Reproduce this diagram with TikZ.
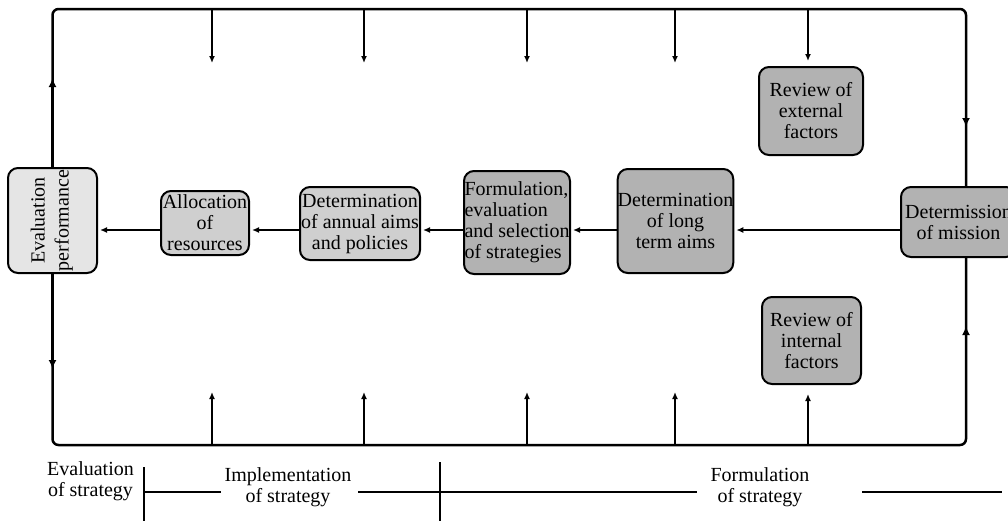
\documentclass[tikz,border=0pt]{standalone}
\usepackage{fontspec}
\setmainfont{Liberation Serif}
\usetikzlibrary{arrows.meta}
\begin{document}
\begin{tikzpicture}[x=0.5pt,y=-0.5pt,
  txt/.style={font=\fontsize{10}{10.5}\selectfont},
  box/.style={txt, draw, line width=1pt, rounded corners=5pt, inner sep=0pt, align=center},
  light/.style={box, fill=gray!20},
  mid/.style={box, fill=gray!38},
  dark/.style={box, fill=gray!60},
  frame/.style={line width=1.25pt},
  arr/.style={line width=0.75pt, -{Latex[length=3.5pt,width=3pt]}},
  farr/.style={line width=1.25pt, -{Latex[length=4.5pt,width=4pt]}},
  leg/.style={line width=0.75pt},
  legtxt/.style={font=\fontsize{10}{10.5}\selectfont, align=center, inner sep=0pt}
]
\useasboundingbox (0,0) rectangle (1008,521);
\clip (0,0) rectangle (1008,521);

% nodes
\node[light, minimum width=44.5pt, minimum height=52.5pt] (eval) at (52.5,220.5)
  {\rotatebox{90}{\begin{tabular}{@{}c@{}}Evaluation\\[1.5pt]performance\end{tabular}}};
\node[mid, minimum width=44pt, minimum height=32pt] (alloc) at (205,223)
  {Allocation\\of\\resources};
\node[mid, minimum width=60pt, minimum height=36.5pt] (annual) at (360,223.5)
  {Determination\\of annual aims\\and policies};
\node[dark, minimum width=53pt, minimum height=51.5pt, align=left] (form) at (517,222.5)
  {Formulation,\\evaluation\\and selection\\of strategies};
\node[dark, minimum width=56.5pt, minimum height=52pt] (long) at (675.5,221)
  {Determination\\of long\\term aims};
\node[dark, minimum width=57.5pt, minimum height=35pt] (mission) at (958.5,222)
  {Determission\\of mission};
\node[dark, minimum width=52pt, minimum height=44pt] (ext) at (811,111)
  {Review of\\external\\factors};
\node[dark, minimum width=49.5pt, minimum height=43.5pt] (int) at (811.5,340.5)
  {Review of\\internal\\factors};

% frame
\coordinate (tl) at (52.5,9);
\coordinate (tr) at (966,9);
\coordinate (br) at (966,445);
\coordinate (bl) at (52.5,445);
\draw[frame, rounded corners=3pt] (eval.north) -- (tl) -- (tr) -- (mission.north -| tr);
\draw[frame, rounded corners=3pt] (mission.south -| tr) -- (br) -- (bl) -- (eval.south);

% arrowheads on the frame
\coordinate (lu) at (52.5,78);
\coordinate (ld) at (52.5,369);
\coordinate (rd) at (966,127);
\coordinate (ru) at (966,326);
\coordinate (rs) at (966,30);
\coordinate (rb) at (966,420);
\draw[farr] (eval.north) -- (lu);
\draw[farr] (eval.south) -- (ld);
\draw[farr] (rs) -- (rd);
\draw[farr] (rb) -- (ru);

% row arrows
\coordinate (row) at (0,230);
\draw[arr, shorten >=1pt] (mission.west |- row) -- (long.east |- row);
\draw[arr, shorten >=1pt] (long.west |- row) -- (form.east |- row);
\draw[arr, shorten >=1pt] (form.west |- row) -- (annual.east |- row);
\draw[arr, shorten >=1pt] (annual.west |- row) -- (alloc.east |- row);
\draw[arr, shorten >=1pt] (alloc.west |- row) -- (eval.east |- row);

% top and bottom arrows
\foreach \x [count=\i] in {212,364,527,675} {
  \coordinate (ts\i) at (\x,9);
  \coordinate (te\i) at (\x,63);
  \draw[arr] (ts\i) -- (te\i);
  \coordinate (bs\i) at (\x,445);
  \coordinate (be\i) at (\x,392);
  \draw[arr] (bs\i) -- (be\i);
}
\coordinate (ts5) at (808,9);
\draw[arr, shorten >=2.5pt] (ts5) -- (ext.north -| ts5);
\coordinate (bs5) at (808,445);
\draw[arr, shorten >=4.5pt] (bs5) -- (int.south -| bs5);

% legend
\node[legtxt] (le) at (90.5,481) {Evaluation\\of strategy};
\node[legtxt] (li) at (288,487) {Implementation\\of strategy};
\node[legtxt] (lf) at (760,487) {Formulation\\of strategy};
\coordinate (v1a) at (144,467);
\coordinate (v1b) at (144,521);
\coordinate (h1a) at (144,492);
\coordinate (h1b) at (221,492);
\coordinate (h2a) at (358,492);
\coordinate (h2b) at (697,492);
\coordinate (v2a) at (440,462);
\coordinate (v2b) at (440,521);
\coordinate (h3a) at (862,492);
\coordinate (h3b) at (1002,492);
\draw[leg] (v1a) -- (v1b);
\draw[leg] (h1a) -- (h1b);
\draw[leg] (h2a) -- (h2b);
\draw[leg] (v2a) -- (v2b);
\draw[leg] (h3a) -- (h3b);
\end{tikzpicture}
\end{document}
